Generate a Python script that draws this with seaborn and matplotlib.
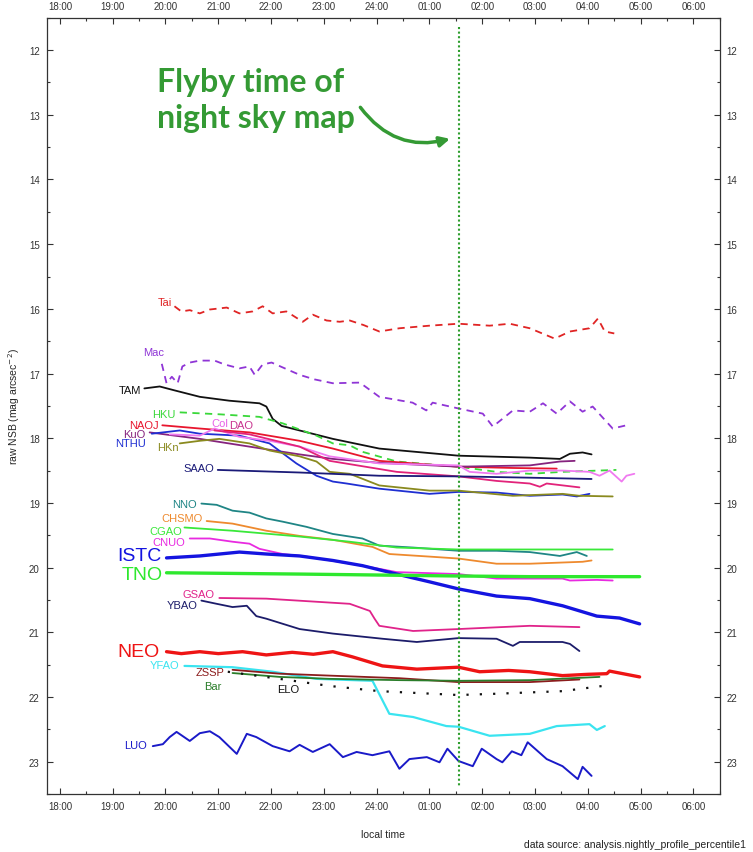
import matplotlib
matplotlib.use("Agg")
import matplotlib.pyplot as plt
from matplotlib.ticker import MultipleLocator
import seaborn as sns
import numpy as np

# local time in hours (24 = midnight, 25 = 01:00 ...), raw NSB in mag/arcsec^2
tai_t = [20.17, 20.30, 20.46, 20.65, 20.84, 21.16, 21.40, 21.65, 21.84, 22.03, 22.29, 22.60, 22.79,
         23.05, 23.30, 23.49, 23.75, 24.05, 24.43, 25.00, 25.55, 26.14, 26.52, 26.90, 27.37, 27.66,
         28.03, 28.19, 28.32, 28.50]
tai_nsb = [15.96, 16.04, 16.02, 16.07, 16.01, 15.98, 16.07, 16.04, 15.96, 16.07, 16.04, 16.20, 16.09,
           16.18, 16.20, 16.18, 16.25, 16.35, 16.30, 16.26, 16.23, 16.26, 16.23, 16.30, 16.46, 16.35,
           16.30, 16.15, 16.35, 16.38]

mac_t = [19.93, 20.02, 20.12, 20.23, 20.32, 20.46, 20.65, 20.93, 21.12, 21.40, 21.59, 21.69, 21.84,
         22.01, 22.26, 22.54, 22.82, 23.17, 23.68, 24.05, 24.68, 24.94, 25.06, 25.55, 26.01, 26.20,
         26.58, 26.90, 27.15, 27.41, 27.66, 27.90, 28.09, 28.47, 28.73]
mac_nsb = [16.85, 17.15, 17.05, 17.15, 16.89, 16.83, 16.80, 16.80, 16.86, 16.92, 16.89, 17.02, 16.86,
           16.83, 16.92, 17.02, 17.09, 17.15, 17.14, 17.36, 17.45, 17.57, 17.45, 17.54, 17.62, 17.82,
           17.57, 17.59, 17.46, 17.62, 17.43, 17.59, 17.51, 17.85, 17.80]

tam_t = [19.60, 19.89, 20.17, 20.65, 21.21, 21.78, 21.91, 22.03, 22.20, 22.54, 23.17, 24.05, 25.55,
         26.90, 27.47, 27.66, 27.90, 28.07]
tam_nsb = [17.23, 17.20, 17.26, 17.36, 17.42, 17.46, 17.51, 17.70, 17.81, 17.88, 18.01, 18.16, 18.27,
           18.30, 18.32, 18.24, 18.22, 18.25]

hku_t = [20.27, 21.02, 21.78, 21.91, 22.22, 22.86, 23.17, 23.49, 23.73, 24.38, 25.55, 26.27, 26.90,
         27.52, 28.54]
hku_nsb = [17.60, 17.63, 17.67, 17.70, 17.77, 17.96, 18.08, 18.11, 18.21, 18.36, 18.44, 18.52, 18.55,
           18.52, 18.49]

naoj_t = [19.94, 20.65, 21.59, 22.54, 23.17, 24.05, 25.55, 26.58, 27.41]
naoj_nsb = [17.80, 17.85, 17.91, 18.04, 18.16, 18.35, 18.44, 18.46, 18.47]

kuo_t = [19.70, 20.65, 21.59, 22.54, 23.17, 24.05, 25.55, 26.90, 27.47, 27.75]
kuo_nsb = [17.91, 18.01, 18.13, 18.25, 18.32, 18.38, 18.44, 18.42, 18.36, 18.35]

nthu_t = [19.74, 20.27, 20.65, 21.40, 21.97, 22.48, 22.86, 23.17, 23.43, 24.05, 25.00, 25.55, 26.27,
          26.90, 27.52, 27.79, 28.03]
nthu_nsb = [17.93, 17.88, 17.93, 17.96, 18.08, 18.39, 18.58, 18.67, 18.70, 18.78, 18.86, 18.83, 18.84,
            18.89, 18.87, 18.90, 18.86]

hkn_t = [20.27, 20.65, 21.02, 21.59, 21.97, 22.54, 22.86, 23.11, 23.49, 24.05, 25.00, 25.55, 26.58,
         27.52, 27.84, 28.47]
hkn_nsb = [18.08, 18.04, 18.01, 18.08, 18.19, 18.28, 18.36, 18.52, 18.55, 18.73, 18.81, 18.81, 18.89,
           18.86, 18.89, 18.90]

col_t = [20.08, 20.65, 20.93, 21.40, 21.97, 22.54, 23.11, 24.05, 25.55, 25.76, 26.27, 26.90, 27.52,
         28.03, 28.22, 28.41, 28.64, 28.73, 28.88]
col_nsb = [17.94, 17.96, 17.85, 17.98, 18.04, 18.13, 18.28, 18.39, 18.42, 18.52, 18.55, 18.50, 18.50,
           18.52, 18.58, 18.50, 18.67, 18.58, 18.55]

dao_t = [20.93, 21.59, 22.54, 23.11, 24.38, 25.55, 26.27, 26.90, 27.09, 27.22, 27.84]
dao_nsb = [17.88, 17.94, 18.13, 18.35, 18.52, 18.59, 18.66, 18.70, 18.75, 18.70, 18.76]

saao_t = [20.99, 22.54, 24.05, 25.55, 26.90, 28.07]
saao_nsb = [18.49, 18.53, 18.58, 18.59, 18.61, 18.63]

nno_t = [20.68, 20.97, 21.27, 21.59, 21.91, 22.22, 22.67, 23.17, 23.73, 24.05, 24.69, 25.55, 26.27,
         26.90, 27.47, 27.79, 27.98]
nno_nsb = [19.01, 19.03, 19.12, 19.15, 19.24, 19.29, 19.37, 19.48, 19.55, 19.66, 19.69, 19.74, 19.74,
           19.76, 19.82, 19.76, 19.82]

chsmo_t = [20.78, 21.27, 21.91, 22.54, 23.17, 23.92, 24.24, 25.00, 25.55, 26.27, 26.90, 27.90, 28.07]
chsmo_nsb = [19.28, 19.32, 19.43, 19.51, 19.57, 19.68, 19.79, 19.83, 19.86, 19.94, 19.94, 19.91, 19.89]

cgao_t = [20.36, 21.27, 22.54, 23.49, 24.38, 25.55, 26.90, 28.47]
cgao_nsb = [19.38, 19.43, 19.52, 19.60, 19.69, 19.72, 19.72, 19.72]

cnuo_t = [20.46, 20.84, 21.27, 21.59, 21.78, 22.22, 22.67, 23.73, 24.38, 25.55, 26.27, 27.52, 27.66,
          28.17, 28.47]
cnuo_nsb = [19.55, 19.55, 19.60, 19.63, 19.71, 19.79, 19.83, 19.97, 20.07, 20.10, 20.17, 20.17, 20.20,
            20.19, 20.20]

istc_t = [20.02, 20.65, 21.40, 21.91, 22.54, 23.17, 23.73, 24.38, 25.00, 25.55, 26.27, 26.90, 27.52,
          28.17, 28.60, 28.98]
istc_nsb = [19.85, 19.82, 19.76, 19.79, 19.82, 19.89, 19.97, 20.10, 20.22, 20.33, 20.44, 20.48, 20.59,
            20.75, 20.78, 20.87]

tno_t = [20.02, 22.54, 25.55, 26.90, 28.98]
tno_nsb = [20.08, 20.10, 20.13, 20.14, 20.14]

gsao_t = [21.02, 21.91, 23.49, 23.87, 23.96, 24.05, 24.69, 25.55, 26.90, 27.84]
gsao_nsb = [20.47, 20.48, 20.56, 20.67, 20.79, 20.90, 20.98, 20.95, 20.90, 20.92]

ybao_t = [20.68, 20.97, 21.27, 21.54, 21.72, 21.91, 22.54, 23.17, 24.11, 24.76, 25.55, 26.27, 26.58,
          26.71, 27.52, 27.66, 27.84]
ybao_nsb = [20.51, 20.56, 20.61, 20.59, 20.75, 20.79, 20.95, 21.02, 21.10, 21.15, 21.09, 21.10, 21.21,
            21.15, 21.15, 21.18, 21.29]

neo_t = [20.02, 20.30, 20.65, 21.00, 21.46, 21.91, 22.40, 22.80, 23.17, 23.54, 24.11, 24.76, 25.55,
         25.95, 26.50, 26.90, 27.52, 28.00, 28.36, 28.41, 28.98]
neo_nsb = [21.30, 21.33, 21.30, 21.33, 21.30, 21.35, 21.31, 21.34, 21.30, 21.38, 21.52, 21.57, 21.54,
           21.61, 21.59, 21.61, 21.67, 21.65, 21.64, 21.60, 21.69]

yfao_t = [20.36, 21.27, 22.03, 22.86, 23.92, 24.24, 24.69, 25.32, 25.55, 26.14, 26.90, 27.41, 28.03,
          28.17, 28.32]
yfao_nsb = [21.52, 21.54, 21.61, 21.72, 21.75, 22.26, 22.31, 22.45, 22.46, 22.60, 22.57, 22.45, 22.42,
            22.51, 22.45]

zssp_t = [21.27, 22.16, 23.11, 24.43, 25.55, 26.90, 27.84]
zssp_nsb = [21.58, 21.64, 21.67, 21.71, 21.77, 21.77, 21.73]

bar_t = [21.27, 22.16, 23.11, 24.43, 25.55, 26.90, 28.22]
bar_nsb = [21.63, 21.69, 21.72, 21.74, 21.75, 21.74, 21.69]

elo_t = [21.18, 22.16, 23.11, 24.05, 25.55, 26.27, 27.52, 28.28]
elo_nsb = [21.61, 21.72, 21.83, 21.91, 21.97, 21.95, 21.91, 21.83]

luo_t = [19.76, 19.95, 20.08, 20.21, 20.46, 20.65, 20.84, 21.02, 21.35, 21.54, 21.72, 22.03, 22.35,
         22.54, 22.79, 23.11, 23.36, 23.62, 23.92, 24.24, 24.43, 24.62, 24.95, 25.19, 25.34, 25.55,
         25.82, 25.99, 26.27, 26.38, 26.56, 26.74, 26.86, 27.22, 27.52, 27.81, 27.90, 28.07]
luo_nsb = [22.76, 22.73, 22.62, 22.54, 22.68, 22.56, 22.53, 22.62, 22.88, 22.57, 22.62, 22.76, 22.84,
           22.74, 22.85, 22.73, 22.93, 22.85, 22.90, 22.84, 23.11, 22.96, 22.93, 23.01, 22.80, 22.99,
           23.07, 22.80, 22.96, 23.01, 22.84, 22.90, 22.70, 22.96, 23.07, 23.27, 23.08, 23.22]

flyby_time = 25.56
hour_ticks = list(range(18, 31))
hour_labels = ["18:00", "19:00", "20:00", "21:00", "22:00", "23:00", "24:00",
               "01:00", "02:00", "03:00", "04:00", "05:00", "06:00"]

# name: (times, values, colour, linewidth, linestyle)
series = {
    "Tai": (tai_t, tai_nsb, "#e02424", 1.3, (0, (4, 3))),
    "Mac": (mac_t, mac_nsb, "#8f35d6", 1.3, (0, (4, 3))),
    "TAM": (tam_t, tam_nsb, "#111111", 1.3, "-"),
    "HKU": (hku_t, hku_nsb, "#3ad83a", 1.3, (0, (4, 3))),
    "NAOJ": (naoj_t, naoj_nsb, "#e8162e", 1.3, "-"),
    "KuO": (kuo_t, kuo_nsb, "#86237e", 1.3, "-"),
    "NTHU": (nthu_t, nthu_nsb, "#1f2fd2", 1.3, "-"),
    "HKn": (hkn_t, hkn_nsb, "#8a8a1f", 1.3, "-"),
    "Col": (col_t, col_nsb, "#f07af0", 1.3, "-"),
    "DAO": (dao_t, dao_nsb, "#e2237a", 1.3, "-"),
    "SAAO": (saao_t, saao_nsb, "#1a1a78", 1.3, "-"),
    "NNO": (nno_t, nno_nsb, "#1f8585", 1.3, "-"),
    "CHSMO": (chsmo_t, chsmo_nsb, "#ee8a2e", 1.3, "-"),
    "CGAO": (cgao_t, cgao_nsb, "#3ae83a", 1.3, "-"),
    "CNUO": (cnuo_t, cnuo_nsb, "#e82ae0", 1.3, "-"),
    "ISTC": (istc_t, istc_nsb, "#1414e0", 2.4, "-"),
    "TNO": (tno_t, tno_nsb, "#2ee82e", 2.4, "-"),
    "GSAO": (gsao_t, gsao_nsb, "#e0238a", 1.3, "-"),
    "YBAO": (ybao_t, ybao_nsb, "#1c1c6a", 1.3, "-"),
    "NEO": (neo_t, neo_nsb, "#ee1414", 2.4, "-"),
    "YFAO": (yfao_t, yfao_nsb, "#3ae4f0", 1.6, "-"),
    "ZSSP": (zssp_t, zssp_nsb, "#8b1c1c", 1.3, "-"),
    "Bar": (bar_t, bar_nsb, "#2a7d2a", 1.3, "-"),
    "ELO": (elo_t, elo_nsb, "#111111", 1.6, (0, (1, 5))),
    "LUO": (luo_t, luo_nsb, "#1a1ac8", 1.4, "-"),
}

# label anchor (time, value), horizontal alignment, font size
labels = {
    "Tai": (20.12, 15.89, "right", 8), "Mac": (19.98, 16.66, "right", 8),
    "TAM": (19.53, 17.26, "right", 8), "HKU": (20.19, 17.62, "right", 8),
    "NAOJ": (19.87, 17.80, "right", 8), "KuO": (19.62, 17.94, "right", 8),
    "NTHU": (19.62, 18.07, "right", 8), "HKn": (20.25, 18.13, "right", 8),
    "Col": (20.87, 17.77, "left", 8), "DAO": (21.20, 17.80, "left", 8),
    "SAAO": (20.93, 18.46, "right", 8), "NNO": (20.60, 19.01, "right", 8),
    "CHSMO": (20.70, 19.24, "right", 8), "CGAO": (20.31, 19.43, "right", 8),
    "CNUO": (20.38, 19.60, "right", 8), "ISTC": (19.93, 19.82, "right", 14),
    "TNO": (19.95, 20.11, "right", 14), "GSAO": (20.92, 20.41, "right", 8),
    "YBAO": (20.60, 20.58, "right", 8), "NEO": (19.89, 21.30, "right", 14),
    "YFAO": (20.27, 21.50, "right", 8), "ZSSP": (21.12, 21.61, "right", 8),
    "Bar": (20.90, 21.83, "center", 8), "ELO": (22.33, 21.88, "center", 8),
    "LUO": (19.64, 22.74, "right", 8),
}
label_colors = {"DAO": "#c8338f", "Col": "#e860e8"}

sns.set_style("ticks")
plt.rcParams["font.family"] = ["Liberation Sans", "DejaVu Sans"]

fig = plt.figure(figsize=(7.53, 8.53), dpi=100)
ax = fig.add_axes([0.062, 0.068, 0.894, 0.910])

for name, (t, v, c, lw, ls) in series.items():
    sns.lineplot(x=t, y=v, ax=ax, color=c, lw=lw, linestyle=ls, sort=False, estimator=None)
    lx, ly, ha, fs = labels[name]
    ax.text(lx, ly, name, color=label_colors.get(name, c), fontsize=fs, ha=ha, va="center")

ax.vlines(flyby_time, 11.65, 23.38, color="#2e9e2e", lw=1.5, linestyle=(0, (1, 1.2)))

ax.text(19.84, 12.26, "Flyby time of\nnight sky map", color="#349a34", fontsize=23,
        fontweight="bold", family=["Lato", "DejaVu Sans"], ha="left", va="top", linespacing=1.3)
ax.annotate("", xy=(25.44, 13.36), xytext=(23.66, 12.85),
            arrowprops=dict(arrowstyle="-|>,head_length=0.6,head_width=0.3", color="#349a34",
                            lw=2.5, connectionstyle="arc3,rad=0.35"))

ax.set_xlim(17.75, 30.5)
ax.set_ylim(23.5, 11.5)
ax.set_xticks(hour_ticks)
ax.set_xticklabels(hour_labels)
ax.set_yticks(range(12, 24))
ax.xaxis.set_minor_locator(MultipleLocator(0.5))
ax.yaxis.set_minor_locator(MultipleLocator(0.5))
ax.tick_params(which="both", direction="in", top=True, right=True, labeltop=True, labelright=True,
               width=0.8, color="#333333", labelsize=7, labelcolor="#333333", pad=5)
ax.tick_params(which="major", length=4)
ax.tick_params(which="minor", length=2.5)
for s in ax.spines.values():
    s.set_linewidth(0.9)
    s.set_color("#333333")

ax.set_xlabel("local time", fontsize=7.5, labelpad=13)
ax.set_ylabel("raw NSB (mag arcsec$^{-2}$)", fontsize=7.5, labelpad=5)
fig.text(0.696, 0.003, "data source: analysis.nightly_profile_percentile1", fontsize=7.5,
         ha="left", va="bottom", color="#222222")

fig.savefig("out.png", dpi=100)
